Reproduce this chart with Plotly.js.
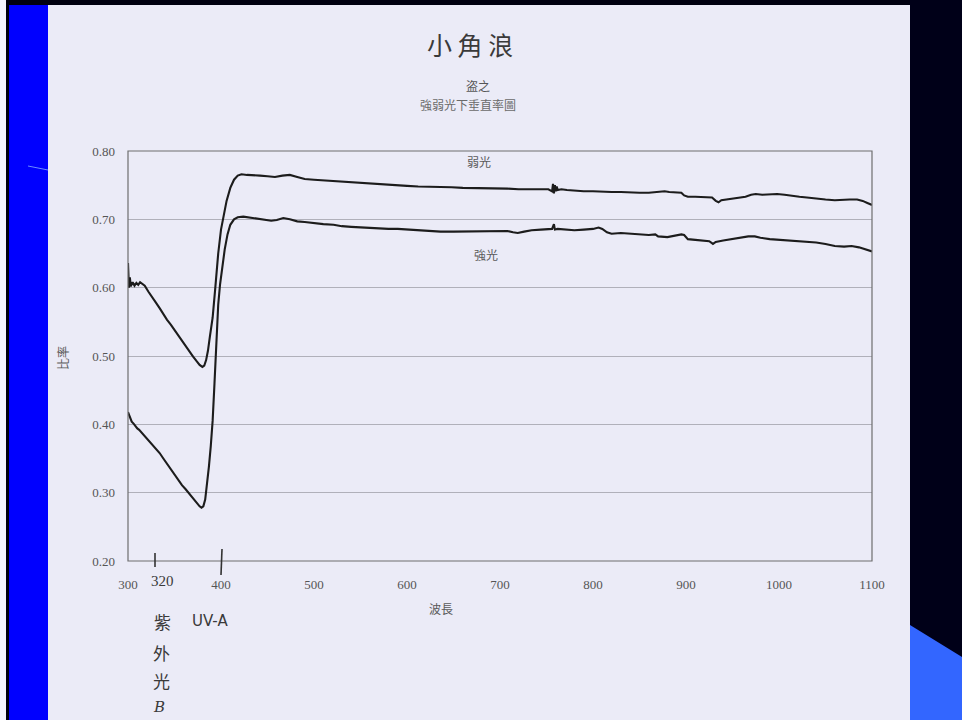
<!DOCTYPE html>
<html>
<head>
<meta charset="utf-8">
<script src="https://cdn.plot.ly/plotly-3.0.1.min.js"></script>
<style>
html,body{margin:0;padding:0;background:#ffffff;}
#chart{width:962px;height:720px;}
</style>
</head>
<body>
<div id="chart"></div>
<script>
// ---- data ----
const weakX = [300,301,302,303,305,307,309,311,313,315,318,322,326,330,334,338,342,346,350,354,358,362,366,370,374,377,380,382,384,386,388,391,394,397,400,403,406,410,414,418,422,428,435,442,450,458,466,474,482,490,500,510,520,530,540,550,560,570,580,590,600,612,624,636,648,660,672,684,696,708,720,732,744,752,756,757,758,759,760,761,762,766,772,780,790,800,810,820,830,840,850,860,870,877,882,890,895,898,902,910,920,928,932,935,938,944,950,958,964,970,975,982,990,998,1006,1014,1022,1030,1040,1050,1060,1068,1076,1084,1090,1095,1100];
const weakY = [0.636,0.600,0.615,0.602,0.608,0.603,0.607,0.604,0.608,0.606,0.603,0.594,0.585,0.578,0.570,0.561,0.553,0.546,0.538,0.530,0.522,0.515,0.507,0.499,0.492,0.487,0.484,0.486,0.494,0.508,0.528,0.556,0.602,0.650,0.685,0.708,0.727,0.746,0.758,0.764,0.766,0.765,0.764,0.764,0.763,0.762,0.764,0.765,0.762,0.759,0.758,0.757,0.756,0.755,0.754,0.754,0.753,0.752,0.751,0.750,0.749,0.748,0.748,0.747,0.747,0.746,0.746,0.745,0.745,0.745,0.744,0.744,0.745,0.744,0.741,0.752,0.738,0.750,0.741,0.748,0.743,0.744,0.743,0.742,0.741,0.741,0.740,0.740,0.740,0.739,0.739,0.739,0.740,0.741,0.740,0.740,0.739,0.735,0.733,0.733,0.733,0.732,0.727,0.725,0.728,0.729,0.730,0.731,0.733,0.736,0.737,0.736,0.737,0.737,0.736,0.734,0.733,0.732,0.730,0.729,0.728,0.729,0.729,0.729,0.727,0.724,0.721];

const strongX = [300,302,304,306,308,310,312,314,318,322,326,330,334,338,342,346,350,354,358,362,366,370,374,377,379,381,383,385,387,389,391,393,395,397,399,401,404,407,410,414,418,424,430,436,442,448,454,460,467,474,482,490,500,510,521,530,540,550,560,570,580,590,600,610,620,636,650,665,680,690,700,708,714,719,726,734,744,752,756,758,759,762,770,780,790,800,806,810,815,820,830,840,850,860,867,870,880,890,895,898,902,910,918,925,929,932,940,950,960,967,974,980,990,1000,1010,1020,1032,1040,1050,1060,1070,1078,1086,1092,1100];
const strongY = [0.418,0.410,0.404,0.401,0.397,0.394,0.392,0.389,0.383,0.377,0.371,0.365,0.358,0.350,0.342,0.334,0.326,0.318,0.311,0.305,0.298,0.292,0.285,0.280,0.278,0.280,0.290,0.310,0.338,0.368,0.405,0.460,0.530,0.575,0.605,0.628,0.656,0.678,0.692,0.700,0.703,0.704,0.703,0.702,0.701,0.700,0.698,0.699,0.702,0.700,0.697,0.696,0.694,0.693,0.692,0.690,0.689,0.688,0.688,0.687,0.686,0.686,0.685,0.684,0.683,0.682,0.682,0.682,0.682,0.683,0.683,0.683,0.681,0.680,0.682,0.684,0.685,0.685,0.686,0.693,0.685,0.686,0.685,0.684,0.685,0.686,0.688,0.686,0.681,0.679,0.680,0.679,0.678,0.677,0.678,0.675,0.674,0.676,0.678,0.677,0.671,0.670,0.669,0.668,0.664,0.667,0.669,0.671,0.673,0.675,0.675,0.673,0.671,0.670,0.669,0.668,0.667,0.666,0.664,0.661,0.660,0.661,0.659,0.656,0.653];

const xTicks = [300,400,500,600,700,800,900,1000,1100];
const yTicks = [0.20,0.30,0.40,0.50,0.60,0.70,0.80];
const seriesNames = ['弱光','強光'];
const handMarkLabels = ['320'];
const titleHand = '小 角 浪';
const titleHandSmall = '盗之';
const titlePrinted = '強弱光下垂直率圖';
const xTitle = '波長';
const yTitle = '比率';

// ---- helpers: pixel -> paper coordinates ----
const L = 128, R = 872, T = 151, B = 561;
const W = 962, H = 720;
const px = x => (x - L) / (R - L);
const py = y => (B - y) / (B - T);

const lineStyle = {color:'#1c1c1c', width:2.1};
const traces = [
  {x: weakX, y: weakY, name: seriesNames[0], mode:'lines', line: lineStyle, hoverinfo:'skip'},
  {x: strongX, y: strongY, name: seriesNames[1], mode:'lines', line: lineStyle, hoverinfo:'skip'}
];

const paperBg = '#ebebf7';
const shapes = [
  {type:'rect', xref:'paper', yref:'paper', x0:px(0), x1:px(6), y0:py(720), y1:py(0), fillcolor:'#f4f4ff', line:{width:0}, layer:'below'},
  {type:'rect', xref:'paper', yref:'paper', x0:px(6), x1:px(9), y0:py(720), y1:py(0), fillcolor:'#000010', line:{width:0}, layer:'below'},
  {type:'rect', xref:'paper', yref:'paper', x0:px(9), x1:px(48), y0:py(720), y1:py(5), fillcolor:'#0000ff', line:{width:0}, layer:'below'},
  {type:'rect', xref:'paper', yref:'paper', x0:px(6), x1:px(910), y0:py(5), y1:py(0), fillcolor:'#000010', line:{width:0}, layer:'below'},
  {type:'line', xref:'paper', yref:'paper', x0:px(28), x1:px(48), y0:py(166), y1:py(170), line:{color:'#6a8cff', width:1}, layer:'below'},
  {type:'rect', xref:'paper', yref:'paper', x0:px(910), x1:px(962), y0:py(720), y1:py(0), fillcolor:'#000018', line:{width:0}, layer:'below'},
  {type:'path', xref:'paper', yref:'paper',
   path:`M ${px(910)} ${py(625)} L ${px(962)} ${py(657)} L ${px(962)} ${py(720)} L ${px(910)} ${py(720)} Z`,
   fillcolor:'#3366ff', line:{width:0}, layer:'below'},
  {type:'rect', xref:'paper', yref:'paper', x0:0, x1:1, y0:0, y1:1, line:{color:'#6e6e6e', width:1.2}, fillcolor:'rgba(0,0,0,0)'},
  // handwritten tick marks (drawn by hand near 320 and 400)
  {type:'line', xref:'paper', yref:'paper', x0:px(155), x1:px(155), y0:py(567), y1:py(553), line:{color:'#333', width:1.6}},
  {type:'line', xref:'paper', yref:'paper', x0:px(221), x1:px(222), y0:py(575), y1:py(549), line:{color:'#333', width:1.6}}
];

const hand = {family:'"Noto Sans CJK TC", "Noto Sans CJK SC", sans-serif', color:'#3a3a3a'};
const cjk = {family:'"Noto Sans CJK TC", sans-serif', size:12, color:'#5a5a5a'};
const A = (x, y, text, font, extra) => Object.assign({xref:'paper', yref:'paper', x:px(x), y:py(y), text:text,
  showarrow:false, xanchor:'center', yanchor:'middle', font:font}, extra || {});
const annotations = [
  A(470, 44, titleHand, {...hand, size:25}),
  A(478, 85, titleHandSmall, {...hand, size:12, color:'#555'}),
  A(468, 105, titlePrinted, {...cjk, color:'#6a6a6a'}),
  Object.assign({xref:'x', yref:'y', x:677, y:0.766, text:seriesNames[0], showarrow:false, xanchor:'center', yanchor:'bottom', yshift:2, font:cjk}),
  Object.assign({xref:'x', yref:'y', x:685, y:0.648, text:seriesNames[1], showarrow:false, xanchor:'center', yanchor:'middle', font:cjk}),
  A(162, 581, handMarkLabels[0], {family:'"Liberation Serif", serif', size:15, color:'#3a3a3a'}),
  A(162, 621, '紫', {...hand, size:17}),
  A(210, 621, 'UV-A', {family:'"DejaVu Sans", sans-serif', size:15, color:'#3a3a3a'}),
  A(161, 652, '外', {...hand, size:17}),
  A(161, 680, '光', {...hand, size:17}),
  A(159, 707, '<i>B</i>', {family:'"DejaVu Serif", serif', size:15, color:'#3a3a3a'}),
  A(441, 608, xTitle, cjk),
  A(62, 358, yTitle, cjk, {textangle:-90})
];

const tickFont = {family:'"Liberation Serif", "DejaVu Serif", serif', size:13, color:'#555'};
const layout = {
  width: W, height: H,
  margin: {l:L, r:W-R, t:T, b:H-B, pad:0},
  paper_bgcolor: paperBg,
  plot_bgcolor: paperBg,
  showlegend: false,
  xaxis: {range:[300,1100], tickvals:xTicks, ticktext:xTicks.map(String), showgrid:false, zeroline:false,
          showline:false, ticks:'', tickfont:tickFont, ticklabelstandoff:14, fixedrange:true},
  yaxis: {range:[0.2,0.8], tickvals:yTicks, ticktext:yTicks.map(v=>v.toFixed(2)), showgrid:true,
          gridcolor:'#b0b0ba', gridwidth:1, zeroline:false, showline:false, ticks:'', tickfont:tickFont,
          ticklabelstandoff:12, fixedrange:true},
  shapes: shapes,
  annotations: annotations
};

Plotly.newPlot('chart', traces, layout, {displayModeBar:false, staticPlot:true});
</script>
</body>
</html>
